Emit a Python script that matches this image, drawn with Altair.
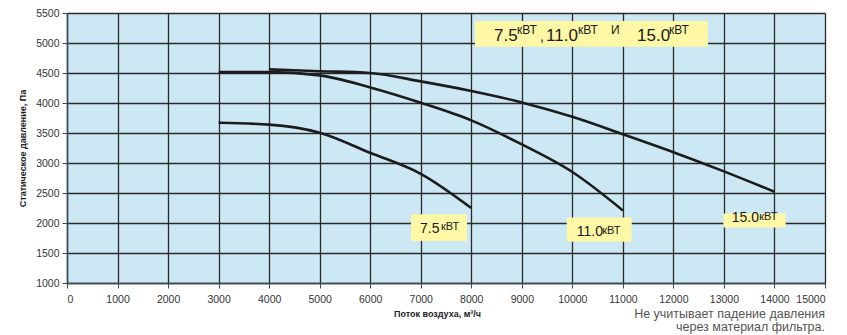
import altair as alt
import pandas as pd

# Curves (airflow m3/h, static pressure Pa)
x75 = [3000, 4000, 5000, 6000, 7000, 8000]
y75 = [3670, 3640, 3505, 3170, 2820, 2250]
x110 = [3000, 4000, 5000, 6000, 7000, 8000, 9000, 10000, 11000]
y110 = [4515, 4515, 4460, 4260, 4005, 3710, 3310, 2850, 2210]
x150 = [4000, 5000, 6000, 7000, 8000, 9000, 10000, 11000, 12000, 13000, 14000]
y150 = [4560, 4530, 4500, 4360, 4200, 4010, 3770, 3480, 3180, 2860, 2520]

x_ticks = list(range(0, 15001, 1000))
y_ticks = list(range(1000, 5501, 500))

# Annotation boxes (data units)
box_x = [8074, 6808, 9889, 12988]
box_x2 = [12685, 7916, 11175, 14222]
box_y = [5367, 2146, 2091, 2157]
box_y2 = [4936, 1702, 1686, 1925]

# Annotation text pieces
big_text = ["7.5", "11.0", "15.0", "7.5", "11.0", "15.0"]
big_x = [8450, 9479, 11280, 6986, 10087, 13153]
big_y = [5035, 5035, 5035, 1835, 1780, 2018]
big_size = [17, 17, 17, 14, 14, 14]

small_text = ["кВТ", ",", "кВТ", "И", "кВТ", "кВТ", "кВТ", "кВТ"]
small_x = [8905, 9360, 10112, 10765, 11913, 7401, 10593, 13700]
small_y = [5157, 5035, 5157, 5157, 5157, 1880, 1825, 2046]
small_size = [12, 14, 12, 12, 12, 11, 11, 11]

rows = []
for s, xs, ys in [("7.5", x75, y75), ("11.0", x110, y110), ("15.0", x150, y150)]:
    for a, b in zip(xs, ys):
        rows.append({"s": s, "x": a, "y": b})
curves = pd.DataFrame(rows)

FONT = "Liberation Sans"
xscale = alt.Scale(domain=[0, 15000], nice=False, zero=False)
yscale = alt.Scale(domain=[1000, 5500], nice=False, zero=False)

xaxis = alt.Axis(values=x_ticks, format="d", grid=True, gridColor="#2a2a2a", gridWidth=1.3,
                 domainColor="#3a4a5a", domainWidth=1.5, tickColor="#3a4a5a", tickSize=5,
                 labelFont=FONT, labelFontSize=10.5, labelColor="#333", labelPadding=6,
                 labelOverlap=False,
                 title="Поток воздуха, м³/ч", titleFont=FONT, titleFontSize=9,
                 titleFontWeight="bold", titleColor="#222", titleX=370, titleY=26,
                 titleBaseline="top", titleAnchor="start", titleAlign="center")
yaxis = alt.Axis(values=y_ticks, format="d", grid=True, gridColor="#2a2a2a", gridWidth=1.3,
                 domainColor="#3a4a5a", domainWidth=1.5, tickColor="#3a4a5a", tickSize=5,
                 labelFont=FONT, labelFontSize=10.5, labelColor="#333", labelPadding=3,
                 labelOverlap=False,
                 title="Статическое давление, Па", titleFont=FONT, titleFontSize=9,
                 titleFontWeight="bold", titleColor="#222", titlePadding=8)

X = alt.X("x:Q", scale=xscale, axis=xaxis)
Y = alt.Y("y:Q", scale=yscale, axis=yaxis)

lines = alt.Chart(curves).mark_line(color="#1c1c1c", strokeWidth=2.6, interpolate="monotone").encode(
    x=X, y=Y, detail="s:N",
)

boxes = alt.Chart(pd.DataFrame({"x": box_x, "x2": box_x2, "y": box_y, "y2": box_y2})).mark_rect(
    color="#FDF7A6").encode(x=X, x2="x2:Q", y=Y, y2="y2:Q")

big = alt.Chart(pd.DataFrame({"t": big_text, "x": big_x, "y": big_y, "fs": big_size})).mark_text(
    align="left", baseline="alphabetic", font=FONT, color="#1a1a1a").encode(
    x=X, y=Y, text="t:N", size=alt.Size("fs:Q", scale=None, legend=None),
)

small = alt.Chart(pd.DataFrame({"t": small_text, "x": small_x, "y": small_y, "fs": small_size})).mark_text(
    align="left", baseline="alphabetic", font=FONT, color="#1a1a1a").encode(
    x=X, y=Y, text="t:N", size=alt.Size("fs:Q", scale=None, legend=None),
)

note = alt.Chart(pd.DataFrame({"t": [["Не учитывает падение давления", "через материал фильтра."]]})).mark_text(
    align="right", baseline="top", font=FONT, fontSize=12.5, color="#555", lineHeight=13).encode(
    x=alt.value(758), y=alt.value(295), text="t")

chart = alt.layer(boxes, lines, big, small, note).properties(
    width=758, height=270,
    autosize=alt.AutoSizeParams(type="none"),
    padding={"left": 59, "top": 5, "right": 14, "bottom": 52},
    background="white",
).configure_view(fill="#CCE8F4", stroke=None)

chart.save("out.html", embed_options={"renderer": "svg", "actions": False})
